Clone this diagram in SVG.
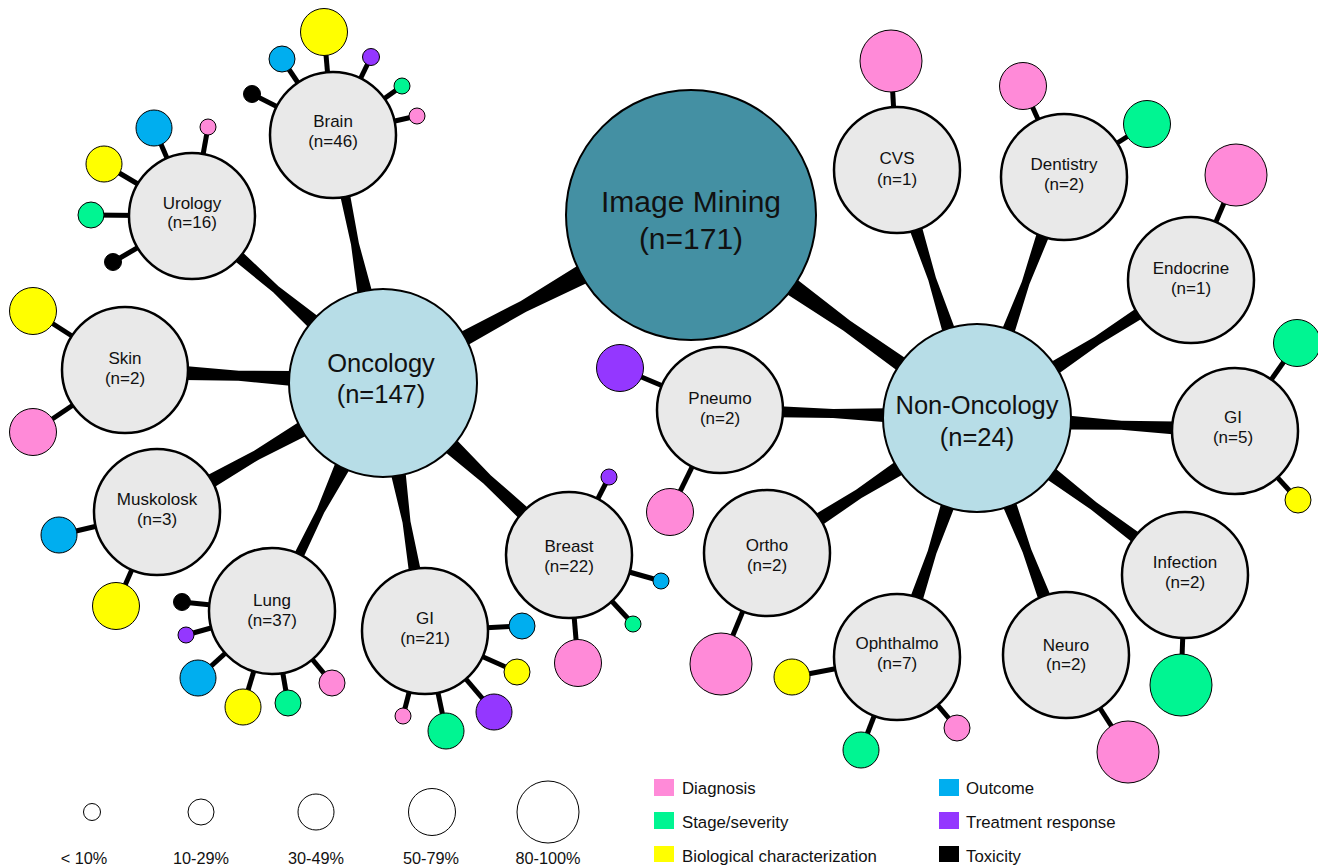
<svg xmlns="http://www.w3.org/2000/svg" width="1318" height="867" viewBox="0 0 1318 867">
  <style>
    .conn { fill: #000; }
    .stem { stroke: #000; stroke-width: 5; }
    .im { fill: #4490A3; stroke: #000; stroke-width: 2; }
    .hub { fill: #B7DDE7; stroke: #000; stroke-width: 2; }
    .sub { fill: #E9E9E9; stroke: #000; stroke-width: 2.5; }
    .f { stroke: #000; stroke-width: 1; }
    .dx { fill: #FF8AD8; }
    .st { fill: #00F592; }
    .bio { fill: #FFFF00; }
    .out { fill: #00AEEF; }
    .tr { fill: #9437FF; }
    .tox { fill: #000; }
    .lg { fill: #fff; stroke: #000; stroke-width: 1; }
    text { font-family: "Liberation Sans", Arial, sans-serif; fill: #111; }
    .t-im { font-size: 30px; text-anchor: middle; }
    .t-hub { font-size: 25.5px; text-anchor: middle; }
    .t-sub { font-size: 17px; text-anchor: middle; }
    .t-lg { font-size: 16.8px; }
    .t-sz { font-size: 16.3px; text-anchor: middle; }
  </style>

  <!-- tapered links and category stems -->
  <g id="connectors">
    <!-- root to the two domains -->
    <polygon class="conn" transform="translate(691,215) rotate(151.4)" points="121,-10 191,-6 261,-7.5 261,7.5 191,6 121,10"/>
    <polygon class="conn" transform="translate(691,215) rotate(35.4)" points="121,-9 191,-6 261,-7.5 261,7.5 191,6 121,9"/>
    <!-- oncology branches -->
    <polygon class="conn" transform="translate(383,383) rotate(-101.4)" points="90,-7.5 142,-4 194,-5 194,5 142,4 90,7.5"/>
    <polygon class="conn" transform="translate(383,383) rotate(-138.8)" points="90,-7.5 142.5,-4 195,-6 195,6 142.5,4 90,7.5"/>
    <polygon class="conn" transform="translate(383,383) rotate(-177.1)" points="90,-7.5 144.5,-5 199,-7 199,7 144.5,5 90,7.5"/>
    <polygon class="conn" transform="translate(383,383) rotate(150.3)" points="90,-8 145.5,-5 201,-7 201,7 145.5,5 90,8"/>
    <polygon class="conn" transform="translate(383,383) rotate(116.0)" points="90,-8 142.5,-4 195,-5 195,5 142.5,4 90,8"/>
    <polygon class="conn" transform="translate(383,383) rotate(80.4)" points="90,-7.5 141,-4 192,-6 192,6 141,4 90,7.5"/>
    <polygon class="conn" transform="translate(383,383) rotate(42.8)" points="90,-8.5 142,-5.5 194,-7 194,7 142,5.5 90,8.5"/>
    <!-- non-oncology branches -->
    <polygon class="conn" transform="translate(977,418) rotate(-107.9)" points="90,-6.5 146,-4 202,-6.5 202,6.5 146,4 90,6.5"/>
    <polygon class="conn" transform="translate(977,418) rotate(-70.2)" points="90,-6.5 143.5,-4 197,-6.5 197,6.5 143.5,4 90,6.5"/>
    <polygon class="conn" transform="translate(977,418) rotate(-32.8)" points="90,-7 143,-4.5 196,-6 196,6 143,4.5 90,7"/>
    <polygon class="conn" transform="translate(977,418) rotate(2.9)" points="90,-7 144.5,-4.5 199,-6.5 199,6.5 144.5,4.5 90,7"/>
    <polygon class="conn" transform="translate(977,418) rotate(37.0)" points="90,-7 146,-4.5 202,-6 202,6 146,4.5 90,7"/>
    <polygon class="conn" transform="translate(977,418) rotate(69.4)" points="90,-7 142,-4.5 194,-6.5 194,6.5 142,4.5 90,7"/>
    <polygon class="conn" transform="translate(977,418) rotate(108.5)" points="90,-7 141.5,-4.5 193,-6.5 193,6.5 141.5,4.5 90,7"/>
    <polygon class="conn" transform="translate(977,418) rotate(147.3)" points="90,-7.5 140.5,-5 191,-6.5 191,6.5 140.5,5 90,7.5"/>
    <polygon class="conn" transform="translate(977,418) rotate(-178.2)" points="90,-7 144,-4.5 198,-5.5 198,5.5 144,4.5 90,7"/>

    <!-- category stems -->
    <g class="stem">
      <!-- Brain -->
      <line x1="333" y1="135" x2="324" y2="32"/>
      <line x1="333" y1="135" x2="282" y2="59"/>
      <line x1="333" y1="135" x2="252" y2="94"/>
      <line x1="333" y1="135" x2="371" y2="57"/>
      <line x1="333" y1="135" x2="402" y2="86"/>
      <line x1="333" y1="135" x2="417" y2="116"/>
      <!-- Urology -->
      <line x1="192" y1="216" x2="154" y2="128"/>
      <line x1="192" y1="216" x2="208" y2="127"/>
      <line x1="192" y1="216" x2="104" y2="164"/>
      <line x1="192" y1="216" x2="91" y2="215"/>
      <line x1="192" y1="216" x2="113" y2="262"/>
      <!-- Skin -->
      <line x1="125" y1="370" x2="33" y2="311"/>
      <line x1="125" y1="370" x2="33" y2="432"/>
      <!-- Muskolosk -->
      <line x1="157" y1="512" x2="59" y2="535"/>
      <line x1="157" y1="512" x2="116" y2="606"/>
      <!-- Lung -->
      <line x1="272" y1="611" x2="182" y2="602"/>
      <line x1="272" y1="611" x2="186" y2="635"/>
      <line x1="272" y1="611" x2="198" y2="678"/>
      <line x1="272" y1="611" x2="243" y2="707"/>
      <line x1="272" y1="611" x2="288" y2="703"/>
      <line x1="272" y1="611" x2="332" y2="683"/>
      <!-- GI (oncology) -->
      <line x1="425" y1="631" x2="522" y2="626"/>
      <line x1="425" y1="631" x2="517" y2="672"/>
      <line x1="425" y1="631" x2="494" y2="712"/>
      <line x1="425" y1="631" x2="446" y2="731"/>
      <line x1="425" y1="631" x2="403" y2="716"/>
      <!-- Breast -->
      <line x1="569" y1="555" x2="609" y2="477"/>
      <line x1="569" y1="555" x2="661" y2="581"/>
      <line x1="569" y1="555" x2="633" y2="624"/>
      <line x1="569" y1="555" x2="578" y2="663"/>
      <!-- Pneumo -->
      <line x1="720" y1="410" x2="620" y2="368"/>
      <line x1="720" y1="410" x2="670" y2="512"/>
      <!-- Ortho -->
      <line x1="767" y1="553" x2="721" y2="664"/>
      <!-- Ophthalmo -->
      <line x1="897" y1="657" x2="792" y2="677"/>
      <line x1="897" y1="657" x2="861" y2="750"/>
      <line x1="897" y1="657" x2="957" y2="728"/>
      <!-- Neuro -->
      <line x1="1066" y1="655" x2="1128" y2="752"/>
      <!-- Infection -->
      <line x1="1185" y1="575" x2="1181" y2="685"/>
      <!-- GI (non-oncology) -->
      <line x1="1235" y1="431" x2="1297" y2="343"/>
      <line x1="1235" y1="431" x2="1298" y2="500"/>
      <!-- Endocrine -->
      <line x1="1191" y1="280" x2="1236" y2="175"/>
      <!-- Dentistry -->
      <line x1="1064" y1="177" x2="1023" y2="86"/>
      <line x1="1064" y1="177" x2="1147" y2="124"/>
      <!-- CVS -->
      <line x1="897" y1="170" x2="891" y2="61"/>
    </g>
  </g>

  <!-- root -->
  <g id="image-mining">
    <circle class="im" cx="691" cy="215" r="125"/>
    <text class="t-im" x="691" y="212">Image Mining</text>
    <text class="t-im" x="691" y="249">(n=171)</text>
  </g>

  <!-- domains -->
  <g id="oncology">
    <circle class="hub" cx="383" cy="383" r="94"/>
    <text class="t-hub" x="381" y="372">Oncology</text>
    <text class="t-hub" x="381" y="403">(n=147)</text>
  </g>
  <g id="non-oncology">
    <circle class="hub" cx="977" cy="418" r="94"/>
    <text class="t-hub" x="977" y="414">Non-Oncology</text>
    <text class="t-hub" x="977" y="446">(n=24)</text>
  </g>

  <!-- oncology sites -->
  <g id="brain">
    <circle class="sub" cx="333" cy="135" r="63"/>
    <text class="t-sub" x="333" y="127">Brain</text>
    <text class="t-sub" x="333" y="147">(n=46)</text>
    <circle class="f bio" cx="324" cy="32" r="23.5"/>
    <circle class="f out" cx="282" cy="59" r="13"/>
    <circle class="f tox" cx="252" cy="94" r="8.5"/>
    <circle class="f tr" cx="371" cy="57" r="8.5"/>
    <circle class="f st" cx="402" cy="86" r="8"/>
    <circle class="f dx" cx="417" cy="116" r="8"/>
  </g>
  <g id="urology">
    <circle class="sub" cx="192" cy="216" r="63"/>
    <text class="t-sub" x="192" y="209">Urology</text>
    <text class="t-sub" x="192" y="228">(n=16)</text>
    <circle class="f out" cx="154" cy="128" r="18"/>
    <circle class="f dx" cx="208" cy="127" r="8"/>
    <circle class="f bio" cx="104" cy="164" r="18"/>
    <circle class="f st" cx="91" cy="215" r="13"/>
    <circle class="f tox" cx="113" cy="262" r="8.5"/>
  </g>
  <g id="skin">
    <circle class="sub" cx="125" cy="370" r="63"/>
    <text class="t-sub" x="125" y="364">Skin</text>
    <text class="t-sub" x="125" y="384">(n=2)</text>
    <circle class="f bio" cx="33" cy="311" r="23.5"/>
    <circle class="f dx" cx="33" cy="432" r="23.5"/>
  </g>
  <g id="muskolosk">
    <circle class="sub" cx="157" cy="512" r="63"/>
    <text class="t-sub" x="157" y="505">Muskolosk</text>
    <text class="t-sub" x="157" y="525">(n=3)</text>
    <circle class="f out" cx="59" cy="535" r="18"/>
    <circle class="f bio" cx="116" cy="606" r="23.5"/>
  </g>
  <g id="lung">
    <circle class="sub" cx="272" cy="611" r="63"/>
    <text class="t-sub" x="272" y="606">Lung</text>
    <text class="t-sub" x="272" y="626">(n=37)</text>
    <circle class="f tox" cx="182" cy="602" r="8.5"/>
    <circle class="f tr" cx="186" cy="635" r="8"/>
    <circle class="f out" cx="198" cy="678" r="18"/>
    <circle class="f bio" cx="243" cy="707" r="18"/>
    <circle class="f st" cx="288" cy="703" r="13"/>
    <circle class="f dx" cx="332" cy="683" r="13"/>
  </g>
  <g id="gi-oncology">
    <circle class="sub" cx="425" cy="631" r="63"/>
    <text class="t-sub" x="425" y="624">GI</text>
    <text class="t-sub" x="425" y="644">(n=21)</text>
    <circle class="f out" cx="522" cy="626" r="13"/>
    <circle class="f bio" cx="517" cy="672" r="13"/>
    <circle class="f tr" cx="494" cy="712" r="18"/>
    <circle class="f st" cx="446" cy="731" r="18"/>
    <circle class="f dx" cx="403" cy="716" r="8"/>
  </g>
  <g id="breast">
    <circle class="sub" cx="569" cy="555" r="63"/>
    <text class="t-sub" x="569" y="552">Breast</text>
    <text class="t-sub" x="569" y="572">(n=22)</text>
    <circle class="f tr" cx="609" cy="477" r="8"/>
    <circle class="f out" cx="661" cy="581" r="8"/>
    <circle class="f st" cx="633" cy="624" r="8"/>
    <circle class="f dx" cx="578" cy="663" r="23.5"/>
  </g>

  <!-- non-oncology sites -->
  <g id="pneumo">
    <circle class="sub" cx="720" cy="410" r="63"/>
    <text class="t-sub" x="720" y="404">Pneumo</text>
    <text class="t-sub" x="720" y="424">(n=2)</text>
    <circle class="f tr" cx="620" cy="368" r="23.5"/>
    <circle class="f dx" cx="670" cy="512" r="23.5"/>
  </g>
  <g id="ortho">
    <circle class="sub" cx="767" cy="553" r="63"/>
    <text class="t-sub" x="767" y="551">Ortho</text>
    <text class="t-sub" x="767" y="571">(n=2)</text>
    <circle class="f dx" cx="721" cy="664" r="31"/>
  </g>
  <g id="ophthalmo">
    <circle class="sub" cx="897" cy="657" r="63"/>
    <text class="t-sub" x="897" y="649">Ophthalmo</text>
    <text class="t-sub" x="897" y="669">(n=7)</text>
    <circle class="f bio" cx="792" cy="677" r="18"/>
    <circle class="f st" cx="861" cy="750" r="18"/>
    <circle class="f dx" cx="957" cy="728" r="13"/>
  </g>
  <g id="neuro">
    <circle class="sub" cx="1066" cy="655" r="63"/>
    <text class="t-sub" x="1066" y="651">Neuro</text>
    <text class="t-sub" x="1066" y="670">(n=2)</text>
    <circle class="f dx" cx="1128" cy="752" r="31"/>
  </g>
  <g id="infection">
    <circle class="sub" cx="1185" cy="575" r="63"/>
    <text class="t-sub" x="1185" y="568">Infection</text>
    <text class="t-sub" x="1185" y="588">(n=2)</text>
    <circle class="f st" cx="1181" cy="685" r="31"/>
  </g>
  <g id="gi-non-oncology">
    <circle class="sub" cx="1235" cy="431" r="63"/>
    <text class="t-sub" x="1233" y="423">GI</text>
    <text class="t-sub" x="1233" y="443">(n=5)</text>
    <circle class="f st" cx="1297" cy="343" r="23.5"/>
    <circle class="f bio" cx="1298" cy="500" r="13"/>
  </g>
  <g id="endocrine">
    <circle class="sub" cx="1191" cy="280" r="63"/>
    <text class="t-sub" x="1191" y="274">Endocrine</text>
    <text class="t-sub" x="1191" y="294">(n=1)</text>
    <circle class="f dx" cx="1236" cy="175" r="31"/>
  </g>
  <g id="dentistry">
    <circle class="sub" cx="1064" cy="177" r="63"/>
    <text class="t-sub" x="1064" y="170">Dentistry</text>
    <text class="t-sub" x="1064" y="190">(n=2)</text>
    <circle class="f dx" cx="1023" cy="86" r="23.5"/>
    <circle class="f st" cx="1147" cy="124" r="23.5"/>
  </g>
  <g id="cvs">
    <circle class="sub" cx="897" cy="170" r="63"/>
    <text class="t-sub" x="897" y="164">CVS</text>
    <text class="t-sub" x="897" y="185">(n=1)</text>
    <circle class="f dx" cx="891" cy="61" r="31"/>
  </g>

  <!-- size key -->
  <g id="size-legend">
    <circle class="lg" cx="92" cy="812" r="8.5"/>
    <circle class="lg" cx="201" cy="812" r="13"/>
    <circle class="lg" cx="316" cy="812" r="18"/>
    <circle class="lg" cx="432" cy="812" r="23.5"/>
    <circle class="lg" cx="548" cy="812" r="31"/>
    <text class="t-sz" x="84" y="864">&lt; 10%</text>
    <text class="t-sz" x="201" y="864">10-29%</text>
    <text class="t-sz" x="316" y="864">30-49%</text>
    <text class="t-sz" x="431" y="864">50-79%</text>
    <text class="t-sz" x="548" y="864">80-100%</text>
  </g>

  <!-- colour key -->
  <g id="category-legend">
    <rect class="dx" x="654" y="779" width="20" height="17"/>
    <rect class="st" x="654" y="812" width="20" height="17"/>
    <rect class="bio" x="654" y="846" width="20" height="16"/>
    <rect class="out" x="939" y="779" width="20" height="17"/>
    <rect class="tr" x="939" y="812" width="20" height="17"/>
    <rect class="tox" x="939" y="846" width="20" height="16"/>
    <text class="t-lg" x="682" y="794">Diagnosis</text>
    <text class="t-lg" x="682" y="828">Stage/severity</text>
    <text class="t-lg" x="682" y="862">Biological characterization</text>
    <text class="t-lg" x="966" y="794">Outcome</text>
    <text class="t-lg" x="966" y="828">Treatment response</text>
    <text class="t-lg" x="966" y="862">Toxicity</text>
  </g>
</svg>
